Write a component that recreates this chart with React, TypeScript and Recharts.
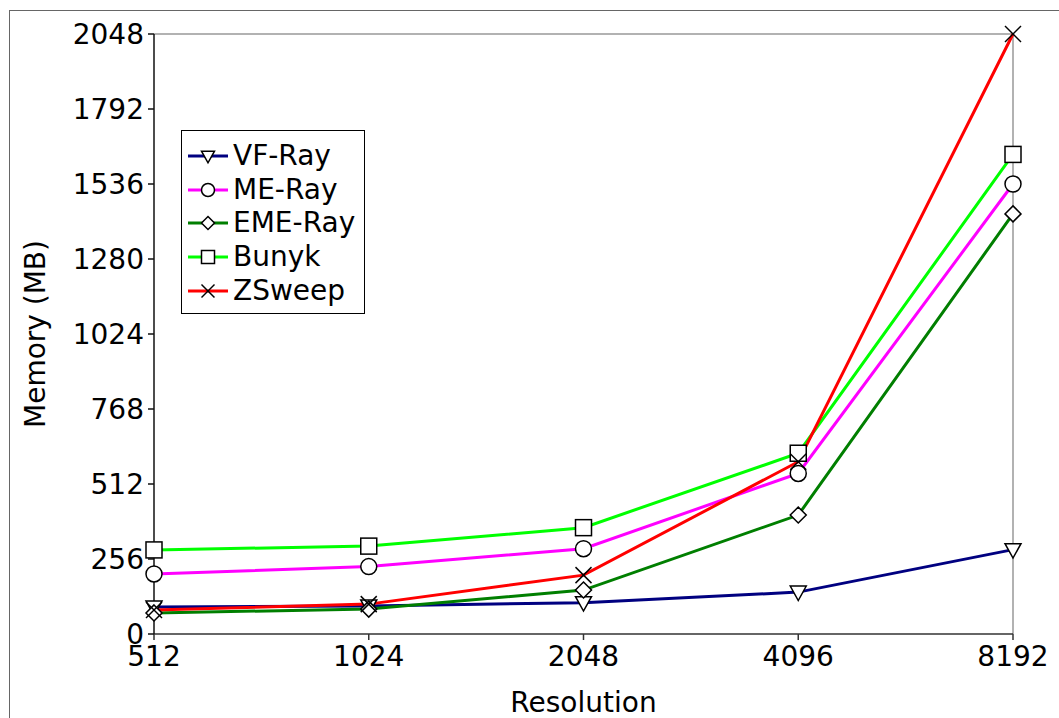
import React from 'react'
import { LineChart, Line, XAxis, YAxis, ReferenceLine } from 'recharts'

const resolutions = ['512', '1024', '2048', '4096', '8192']
const yTicks = [0, 256, 512, 768, 1024, 1280, 1536, 1792, 2048]

const vfRay = [92, 96, 107, 143, 288]
const meRay = [205, 230, 291, 548, 1536]
const emeRay = [72, 85, 150, 406, 1434]
const bunyk = [287, 300, 363, 617, 1637]
const zSweep = [82, 102, 201, 588, 2048]

const seriesList = [
  { key: 'vf', name: 'VF-Ray', color: '#000080', shape: 'triangle' },
  { key: 'me', name: 'ME-Ray', color: '#ff00ff', shape: 'circle' },
  { key: 'eme', name: 'EME-Ray', color: '#007f00', shape: 'diamond' },
  { key: 'bunyk', name: 'Bunyk', color: '#00ff00', shape: 'square' },
  { key: 'zs', name: 'ZSweep', color: '#ff0000', shape: 'cross' },
]

const data = resolutions.map((res, i) => ({
  res,
  vf: vfRay[i],
  me: meRay[i],
  eme: emeRay[i],
  bunyk: bunyk[i],
  zs: zSweep[i],
}))

const FONT = 'DejaVu Sans, sans-serif'

function Marker({ shape, cx, cy, s = 8 }: { shape: string; cx: number; cy: number; s?: number }) {
  const common = { fill: '#fff', stroke: '#000', strokeWidth: 1.5 }
  if (shape === 'triangle') {
    return <polygon points={`${cx - s},${cy - s * 0.75} ${cx + s},${cy - s * 0.75} ${cx},${cy + s * 1.05}`} {...common} />
  }
  if (shape === 'circle') return <circle cx={cx} cy={cy} r={s} {...common} />
  if (shape === 'diamond') {
    return <polygon points={`${cx},${cy - s} ${cx + s},${cy} ${cx},${cy + s} ${cx - s},${cy}`} {...common} />
  }
  if (shape === 'square') return <rect x={cx - s} y={cy - s} width={s * 2} height={s * 2} {...common} />
  return (
    <g stroke="#000" strokeWidth={1.5}>
      <line x1={cx - s} y1={cy - s} x2={cx + s} y2={cy + s} />
      <line x1={cx - s} y1={cy + s} x2={cx + s} y2={cy - s} />
    </g>
  )
}

// legend box drawn over the plot, top-left
function LegendBox() {
  return (
    <div
      style={{
        position: 'absolute',
        left: 181,
        top: 130,
        width: 184,
        height: 184,
        border: '1px solid #000',
        background: '#fff',
        padding: '8px 0 0 6px',
        fontFamily: FONT,
        fontSize: 28,
        boxSizing: 'border-box',
      }}
    >
      {seriesList.map((s) => (
        <div key={s.key} style={{ display: 'flex', alignItems: 'center', height: 33.7 }}>
          <svg width={42} height={20}>
            <line x1={0} y1={10} x2={40} y2={10} stroke={s.color} strokeWidth={3} />
            <Marker shape={s.shape} cx={20} cy={10} s={6.5} />
          </svg>
          <span style={{ marginLeft: 3, color: '#000', lineHeight: 1 }}>{s.name}</span>
        </div>
      ))}
    </div>
  )
}

export default function App() {
  return (
    <div style={{ position: 'absolute', left: 0, top: 0, width: 1059, height: 718, background: '#fff', overflow: 'hidden' }}>
      <div
        style={{
          position: 'absolute',
          left: 9,
          top: 10,
          width: 1100,
          height: 800,
          borderTop: '1.5px solid #666',
          borderLeft: '1.5px solid #666',
        }}
      />
      <div style={{ position: 'absolute', left: 0, top: 0 }}>
        <LineChart width={1059} height={718} data={data} margin={{ top: 34, right: 46, bottom: 0, left: 0 }}>
          <XAxis
            dataKey="res"
            type="category"
            height={84}
            stroke="#333"
            strokeWidth={1.5}
            tickSize={6}
            tick={{ fontSize: 28, fill: '#000', fontFamily: FONT }}
            tickMargin={6}
            label={{ value: 'Resolution', position: 'insideBottom', offset: 6, fontSize: 28, fill: '#000', fontFamily: FONT }}
          />
          <YAxis
            width={154}
            domain={[0, 2048]}
            ticks={yTicks}
            interval={0}
            stroke="#111"
            strokeWidth={1.5}
            tickSize={6}
            tick={{ fontSize: 28, fill: '#000', fontFamily: FONT }}
            tickMargin={4}
            label={{ value: 'Memory (MB)', angle: -90, position: 'insideLeft', offset: 35, fontSize: 28, fill: '#000', fontFamily: FONT, style: { textAnchor: 'middle' } }}
          />
          <ReferenceLine y={2048} stroke="#999" strokeWidth={1.5} />
          <ReferenceLine x="8192" stroke="#999" strokeWidth={1.5} />
          {seriesList.map((s) => (
            <Line
              key={s.key}
              dataKey={s.key}
              name={s.name}
              stroke={s.color}
              strokeWidth={3}
              isAnimationActive={false}
              dot={(p: any) => <Marker key={`${s.key}-${p.index}`} shape={s.shape} cx={p.cx} cy={p.cy} />}
              activeDot={false}
            />
          ))}
        </LineChart>
      </div>
      <LegendBox />
    </div>
  )
}
